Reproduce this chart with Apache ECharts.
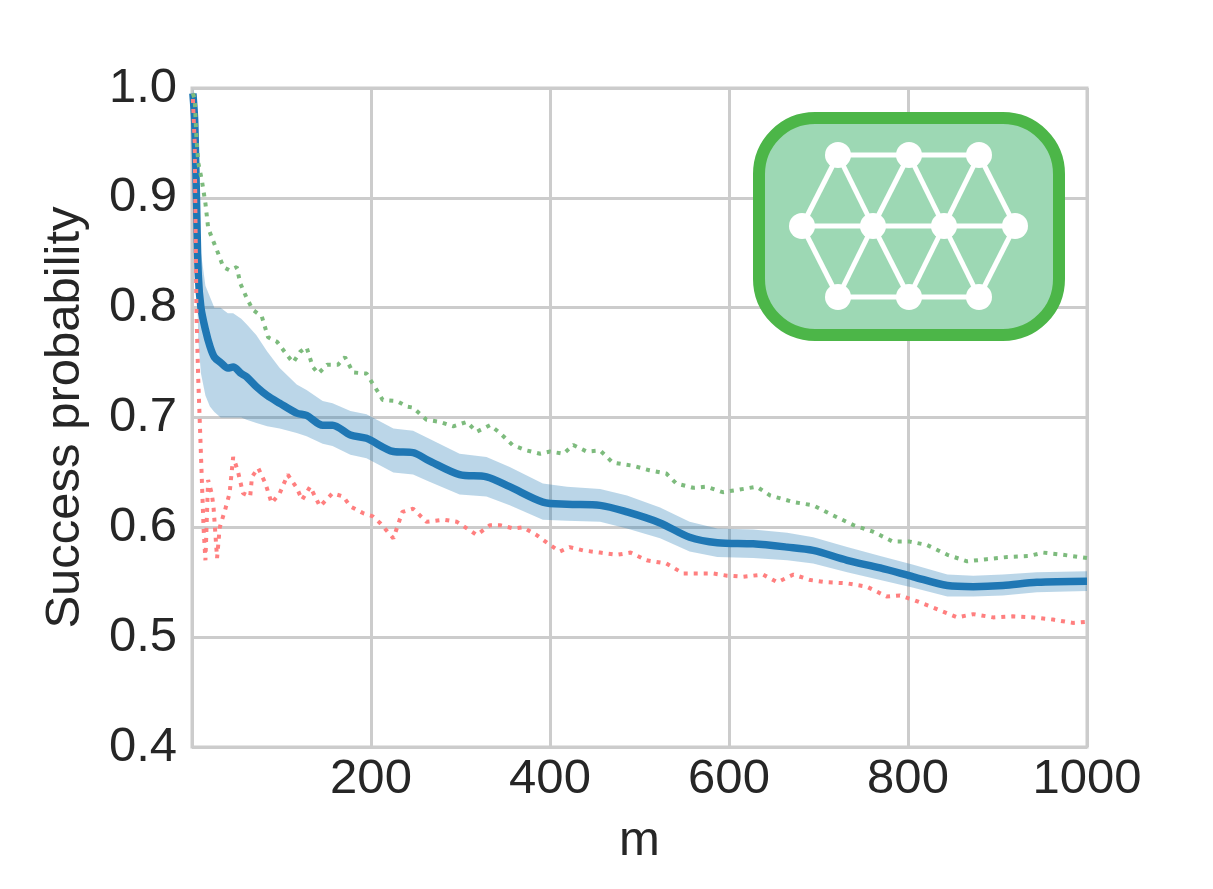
<!DOCTYPE html>
<html>
<head>
<meta charset="utf-8">
<script src="https://cdn.jsdelivr.net/npm/echarts@6/dist/echarts.min.js"></script>
<style>
  html, body { margin: 0; padding: 0; background: #fff; }
  #chart { width: 1213px; height: 889px; }
</style>
</head>
<body>
<div id="chart"></div>
<script>
// mean success probability with its band
var meanM = [1, 3, 5, 7, 10, 15, 20, 25, 32, 40, 46, 55, 61, 72, 84, 98, 117, 128, 146, 157,
    177, 195, 225, 247, 264, 299, 329, 355, 392, 419, 456, 486, 523, 556, 587, 627, 665, 694,
    732, 769, 806, 844, 873, 906, 944, 1000];
var meanVal = [0.995, 0.97, 0.90, 0.83, 0.80, 0.78, 0.765, 0.755, 0.75, 0.745, 0.746, 0.74, 0.737,
    0.728, 0.72, 0.713, 0.704, 0.702, 0.693, 0.693, 0.684, 0.681, 0.669, 0.668, 0.661, 0.648,
    0.646, 0.637, 0.623, 0.621, 0.620, 0.614, 0.604, 0.591, 0.586, 0.585, 0.582, 0.579, 0.570,
    0.563, 0.555, 0.547, 0.546, 0.547, 0.550, 0.551];
var bandLow = [0.99, 0.93, 0.85, 0.77, 0.74, 0.72, 0.71, 0.705, 0.70, 0.70, 0.70, 0.70, 0.698,
    0.695, 0.692, 0.69, 0.686, 0.683, 0.676, 0.674, 0.666, 0.663, 0.65, 0.648, 0.642, 0.63,
    0.628, 0.62, 0.607, 0.606, 0.605, 0.599, 0.59, 0.578, 0.573, 0.572, 0.57, 0.567, 0.559,
    0.552, 0.545, 0.537, 0.537, 0.538, 0.541, 0.542];
var bandHigh = [1.0, 0.99, 0.95, 0.89, 0.85, 0.82, 0.81, 0.80, 0.80, 0.795, 0.795, 0.79, 0.785,
    0.775, 0.76, 0.745, 0.73, 0.725, 0.715, 0.713, 0.706, 0.703, 0.69, 0.688, 0.681, 0.667,
    0.664, 0.655, 0.64, 0.637, 0.635, 0.629, 0.618, 0.605, 0.599, 0.598, 0.595, 0.591, 0.582,
    0.574, 0.566, 0.557, 0.556, 0.557, 0.559, 0.560];

// upper (green dotted) curve
var upperM = [1, 3, 5, 7, 11, 15, 18, 22, 28, 35, 42, 50, 54, 61, 68, 78, 85, 95, 106, 113, 121,
    128, 135, 141, 151, 163, 171, 180, 195, 201, 208, 213, 229, 240, 247, 262, 277, 292, 307,
    318, 333, 344, 358, 374, 389, 400, 415, 426, 441, 456, 470, 493, 511, 530, 541, 560, 575,
    593, 609, 631, 646, 672, 694, 716, 739, 761, 783, 802, 821, 844, 866, 888, 911, 936, 951,
    973, 1000];
var upperVal = [0.995, 0.99, 0.953, 0.932, 0.916, 0.895, 0.873, 0.864, 0.852, 0.837, 0.834, 0.837,
    0.822, 0.809, 0.798, 0.792, 0.773, 0.769, 0.757, 0.75, 0.76, 0.764, 0.746, 0.74, 0.748, 0.748,
    0.755, 0.741, 0.74, 0.732, 0.723, 0.716, 0.715, 0.71, 0.709, 0.698, 0.696, 0.692, 0.696, 0.687,
    0.693, 0.686, 0.675, 0.670, 0.667, 0.669, 0.667, 0.675, 0.669, 0.670, 0.659, 0.656, 0.652,
    0.649, 0.640, 0.636, 0.637, 0.632, 0.634, 0.637, 0.629, 0.623, 0.620, 0.611, 0.602, 0.596,
    0.587, 0.587, 0.584, 0.575, 0.569, 0.571, 0.573, 0.574, 0.577, 0.575, 0.572];

// lower (red dotted) curve
var lowerM = [1, 3, 5, 7, 9, 11, 13, 15, 18, 22, 24, 28, 31, 37, 42, 46, 51, 57, 65, 67, 74, 82,
    89, 98, 107, 117, 123, 132, 143, 157, 169, 177, 191, 202, 210, 225, 235, 247, 262, 281, 296,
    311, 318, 333, 344, 359, 370, 385, 400, 411, 422, 437, 456, 475, 490, 508, 530, 549, 568,
    582, 598, 616, 638, 654, 672, 691, 709, 732, 754, 776, 791, 806, 828, 855, 873, 895, 917,
    940, 962, 984, 1000];
var lowerVal = [0.99, 0.95, 0.795, 0.734, 0.689, 0.643, 0.598, 0.570, 0.643, 0.631, 0.619, 0.572,
    0.600, 0.616, 0.631, 0.664, 0.652, 0.631, 0.628, 0.646, 0.654, 0.640, 0.622, 0.631, 0.648,
    0.636, 0.625, 0.637, 0.619, 0.631, 0.628, 0.619, 0.613, 0.610, 0.604, 0.590, 0.614, 0.617,
    0.605, 0.607, 0.605, 0.597, 0.593, 0.602, 0.602, 0.599, 0.600, 0.593, 0.584, 0.578, 0.582,
    0.579, 0.577, 0.575, 0.577, 0.570, 0.567, 0.558, 0.558, 0.558, 0.556, 0.555, 0.557, 0.550,
    0.557, 0.552, 0.550, 0.549, 0.546, 0.537, 0.538, 0.534, 0.527, 0.518, 0.521, 0.518, 0.519,
    0.518, 0.516, 0.513, 0.514];

var yTicks = [0.4, 0.5, 0.6, 0.7, 0.8, 0.9, 1.0];

function pairs(xs, ys) {
    return xs.map(function (x, i) { return [x, ys[i]]; });
}

var font = "'Liberation Sans', Arial, sans-serif";
var textColor = '#262626';
var gridColor = '#cccccc';
var fontSize = 49;

// lattice icon in the upper right corner
var iconTop = [[838, 155], [909, 155], [979, 155]];
var iconMid = [[802, 226], [873, 226], [944, 226], [1015, 226]];
var iconBot = [[838, 297], [909, 297], [979, 297]];

function iconGraphics() {
    var els = [{
        type: 'rect',
        shape: { x: 759, y: 118, width: 300, height: 217, r: 56 },
        style: { fill: '#9dd8b4', stroke: '#4cb648', lineWidth: 12 },
        z: 10
    }];
    var edges = [];
    function row(pts) {
        for (var i = 0; i < pts.length - 1; i++) edges.push([pts[i], pts[i + 1]]);
    }
    row(iconTop); row(iconMid); row(iconBot);
    [iconTop, iconBot].forEach(function (r) {
        r.forEach(function (p, i) {
            edges.push([p, iconMid[i]]);
            edges.push([p, iconMid[i + 1]]);
        });
    });
    edges.forEach(function (e) {
        els.push({
            type: 'line',
            shape: { x1: e[0][0], y1: e[0][1], x2: e[1][0], y2: e[1][1] },
            style: { stroke: '#ffffff', lineWidth: 5 },
            z: 11
        });
    });
    iconTop.concat(iconMid, iconBot).forEach(function (p) {
        els.push({
            type: 'circle',
            shape: { cx: p[0], cy: p[1], r: 13 },
            style: { fill: '#ffffff' },
            z: 12
        });
    });
    return els;
}

// band polygon: upper edge left to right, then lower edge back
function renderBand(params, api) {
    if (params.dataIndex !== 0) return null;
    var pts = [];
    for (var i = 0; i < meanM.length; i++) pts.push(api.coord([meanM[i], bandHigh[i]]));
    for (var j = meanM.length - 1; j >= 0; j--) pts.push(api.coord([meanM[j], bandLow[j]]));
    return {
        type: 'polygon',
        shape: { points: pts },
        style: { fill: 'rgba(31,119,180,0.3)' }
    };
}

var myChart = echarts.init(document.getElementById('chart'));
myChart.setOption({
    animation: false,
    backgroundColor: '#ffffff',
    grid: {
        left: 192, right: 126, top: 88, bottom: 142,
        show: true, borderColor: gridColor, borderWidth: 3
    },
    xAxis: {
        type: 'value',
        min: 0, max: 1000, interval: 200,
        name: 'm',
        nameLocation: 'middle',
        nameGap: 70,
        nameTextStyle: { fontFamily: font, fontSize: fontSize, color: textColor },
        axisLine: { show: false },
        axisTick: { show: false },
        axisLabel: {
            fontFamily: font, fontSize: fontSize, color: textColor, margin: 8,
            formatter: function (v) { return v === 0 ? '' : String(v); }
        },
        splitLine: { lineStyle: { color: gridColor, width: 3 } }
    },
    yAxis: {
        type: 'value',
        min: yTicks[0], max: yTicks[yTicks.length - 1], interval: 0.1,
        name: 'Success probability',
        nameLocation: 'middle',
        nameGap: 102,
        nameTextStyle: { fontFamily: font, fontSize: fontSize, color: textColor },
        axisLine: { show: false },
        axisTick: { show: false },
        axisLabel: {
            fontFamily: font, fontSize: fontSize, color: textColor, margin: 15,
            formatter: function (v) { return v.toFixed(1); }
        },
        splitLine: { lineStyle: { color: gridColor, width: 3 } }
    },
    series: [
        {
            name: 'band',
            type: 'custom',
            renderItem: renderBand,
            data: pairs(meanM, bandLow),
            silent: true,
            z: 1
        },
        {
            name: 'mean',
            type: 'line',
            data: pairs(meanM, meanVal),
            symbol: 'none',
            smooth: 0.3,
            lineStyle: { color: '#1f77b4', width: 7.5 },
            z: 2
        },
        {
            name: 'upper',
            type: 'line',
            data: pairs(upperM, upperVal),
            symbol: 'none',
            lineStyle: { color: '#7dbb7d', width: 4, type: [4, 6] },
            z: 3
        },
        {
            name: 'lower',
            type: 'line',
            data: pairs(lowerM, lowerVal),
            symbol: 'none',
            lineStyle: { color: '#ff7f7f', width: 4, type: [4, 6] },
            z: 4
        }
    ],
    graphic: iconGraphics()
});
</script>
</body>
</html>
